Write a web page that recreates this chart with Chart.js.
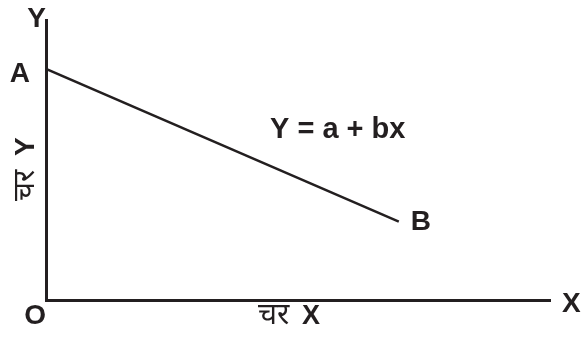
<!DOCTYPE html>
<html>
<head>
<meta charset="utf-8">
<script src="https://cdn.jsdelivr.net/npm/chart.js@4/dist/chart.umd.min.js"></script>
<style>
  html, body { margin: 0; padding: 0; background: #fff; }
  #wrap { width: 581px; height: 338px; position: relative; }
</style>
</head>
<body>
<div id="wrap"><canvas id="chart" width="581" height="338"></canvas></div>
<script>
// line AB : Y = a + bx
const pointNames = ["A", "B"];
const xValues = [0, 70];
const yValues = [82.5, 28];
const axisMax = [100, 100];

const FAMILY = "'Liberation Sans', Arial, sans-serif";
const BOLD = "bold 28px " + FAMILY;
const HINDI = "30px 'Noto Sans', sans-serif";

// labels drawn on top of the plot
const labelPlugin = {
  id: "labels",
  afterDraw(chart) {
    const ctx = chart.ctx;
    const xs = chart.scales.x;
    const ys = chart.scales.y;
    const area = chart.chartArea;
    ctx.save();
    ctx.fillStyle = "#231f20";
    ctx.textBaseline = "alphabetic";
    ctx.font = BOLD;

    // axis letters
    ctx.textAlign = "right";
    ctx.fillText("Y", area.left, area.top + 7);
    ctx.fillText("O", area.left, area.bottom + 24);
    ctx.textAlign = "left";
    ctx.fillText("X", area.right + 12, area.bottom + 12);

    // point names
    ctx.textAlign = "right";
    ctx.fillText(pointNames[0], area.left - 16, ys.getPixelForValue(yValues[0]) + 13);
    ctx.textAlign = "left";
    ctx.fillText(pointNames[1], xs.getPixelForValue(xValues[1]) + 12, ys.getPixelForValue(yValues[1]) + 8);

    // equation
    ctx.font = "bold 29px " + FAMILY;
    ctx.fillText("Y = a + bx", 270, 138);

    // x axis title
    ctx.font = HINDI;
    ctx.fillText("चर", 258, area.bottom + 24);
    ctx.font = "bold 27px " + FAMILY;
    ctx.fillText("X", 302, area.bottom + 24);

    // y axis title, rotated
    ctx.translate(34, 201);
    ctx.rotate(-Math.PI / 2);
    ctx.font = HINDI;
    ctx.fillText("चर", 0, 0);
    ctx.font = BOLD;
    ctx.fillText("Y", 45, 0);
    ctx.restore();
  }
};

new Chart(document.getElementById("chart"), {
  type: "line",
  data: {
    datasets: [{
      data: xValues.map((x, i) => ({ x: x, y: yValues[i] })),
      borderColor: "#231f20",
      borderWidth: 2.5,
      pointRadius: 0,
      fill: false
    }]
  },
  options: {
    responsive: false,
    animation: false,
    devicePixelRatio: 1,
    layout: { padding: { left: 46, right: 31, top: 20, bottom: 38 } },
    plugins: { legend: { display: false }, tooltip: { enabled: false } },
    scales: {
      x: {
        type: "linear", min: 0, max: axisMax[0],
        ticks: { display: false },
        grid: { display: false, drawTicks: false },
        border: { display: true, color: "#231f20", width: 3 }
      },
      y: {
        type: "linear", min: 0, max: axisMax[1],
        ticks: { display: false },
        grid: { display: false, drawTicks: false },
        border: { display: true, color: "#231f20", width: 3 }
      }
    }
  },
  plugins: [labelPlugin]
});
</script>
</body>
</html>
